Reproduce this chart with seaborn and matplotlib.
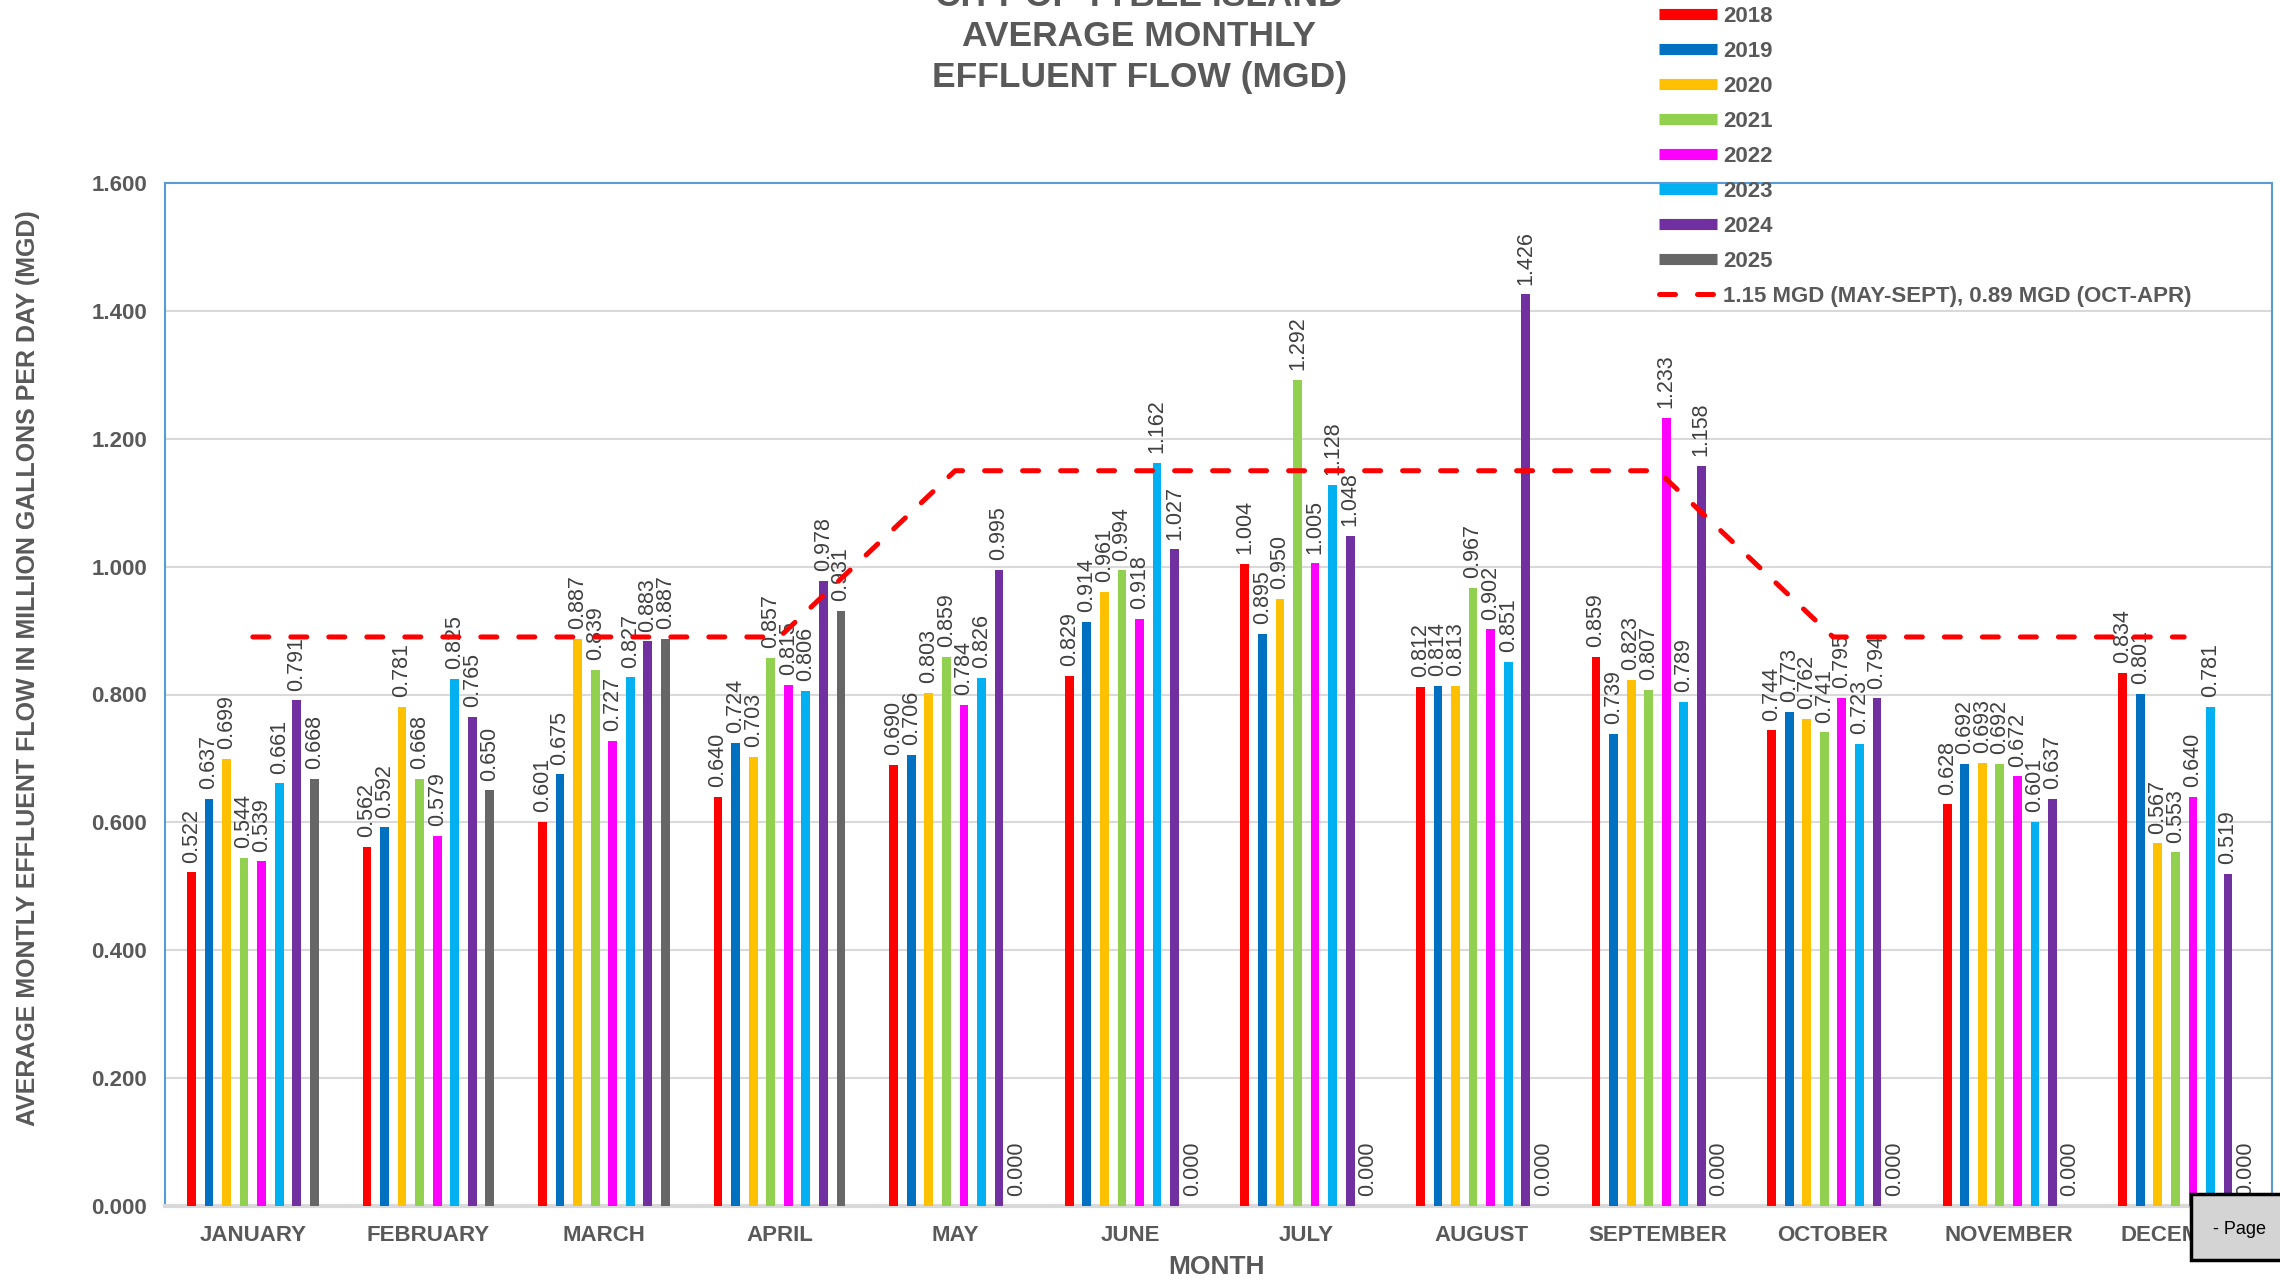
import pandas as pd
import numpy as np
import matplotlib.pyplot as plt
import seaborn as sns
from matplotlib.lines import Line2D
from matplotlib.patches import Rectangle
from matplotlib.ticker import FormatStrFormatter

# Chart data
months = ['JANUARY', 'FEBRUARY', 'MARCH', 'APRIL', 'MAY', 'JUNE',
          'JULY', 'AUGUST', 'SEPTEMBER', 'OCTOBER', 'NOVEMBER', 'DECEMBER']
years = ['2018', '2019', '2020', '2021', '2022', '2023', '2024', '2025']

flow_2018 = [0.522, 0.562, 0.601, 0.640, 0.690, 0.829, 1.004, 0.812, 0.859, 0.744, 0.628, 0.834]
flow_2019 = [0.637, 0.592, 0.675, 0.724, 0.706, 0.914, 0.895, 0.814, 0.739, 0.773, 0.692, 0.801]
flow_2020 = [0.699, 0.781, 0.887, 0.703, 0.803, 0.961, 0.950, 0.813, 0.823, 0.762, 0.693, 0.567]
flow_2021 = [0.544, 0.668, 0.839, 0.857, 0.859, 0.994, 1.292, 0.967, 0.807, 0.741, 0.692, 0.553]
flow_2022 = [0.539, 0.579, 0.727, 0.815, 0.784, 0.918, 1.005, 0.902, 1.233, 0.795, 0.672, 0.640]
flow_2023 = [0.661, 0.825, 0.827, 0.806, 0.826, 1.162, 1.128, 0.851, 0.789, 0.723, 0.601, 0.781]
flow_2024 = [0.791, 0.765, 0.883, 0.978, 0.995, 1.027, 1.048, 1.426, 1.158, 0.794, 0.637, 0.519]
flow_2025 = [0.668, 0.650, 0.887, 0.931, 0.000, 0.000, 0.000, 0.000, 0.000, 0.000, 0.000, 0.000]

# permit limit: 1.15 MGD May-Sept, 0.89 MGD Oct-Apr
limit_mgd = [0.89, 0.89, 0.89, 0.89, 1.15, 1.15, 1.15, 1.15, 1.15, 0.89, 0.89, 0.89]
limit_label = '1.15 MGD (MAY-SEPT), 0.89 MGD (OCT-APR)'

year_colors = ['#FF0000', '#0070C0', '#FFC000', '#92D050', '#FF00FF', '#00B0F0', '#7030A0', '#666666']
limit_color = '#FF0000'
text_gray = '#595959'

series = dict(zip(years, [flow_2018, flow_2019, flow_2020, flow_2021,
                          flow_2022, flow_2023, flow_2024, flow_2025]))
df = pd.DataFrame([(m, y, v) for y, vals in series.items() for m, v in zip(months, vals)],
                  columns=['Month', 'Year', 'Flow'])

sns.set_style('white')
plt.rcParams['font.family'] = ['Liberation Sans', 'DejaVu Sans']

W, H = 2280, 1283
fig = plt.figure(figsize=(W / 100, H / 100), dpi=100)
ax_l, ax_r, ax_t, ax_b = 165, 2272, 183, 1206
ax = fig.add_axes([ax_l / W, 1 - ax_b / H, (ax_r - ax_l) / W, (ax_b - ax_t) / H])

sns.barplot(data=df, x='Month', y='Flow', hue='Year', order=months, hue_order=years,
            palette=year_colors, width=0.8, gap=0.5, saturation=1, linewidth=0,
            legend=False, ax=ax, zorder=3)

for cont in ax.containers:
    ax.bar_label(cont, fmt='%.3f', rotation=90, padding=7, fontsize=15.5, color='#404040', zorder=4)

ax.plot(np.arange(len(months)), limit_mgd, color=limit_color, lw=3.6,
        dashes=(3.2, 4.4), dash_capstyle='round', zorder=5)

# axes styling
ax.set_xlim(-0.5, 11.5)
ax.set_ylim(0, 1.6)
ax.set_yticks(np.arange(0, 1.61, 0.2))
ax.yaxis.set_major_formatter(FormatStrFormatter('%.3f'))
ax.set_axisbelow(True)
ax.grid(axis='y', color='#d9d9d9', lw=1.5)
ax.grid(axis='x', visible=False)
for side in ['left', 'top', 'right']:
    ax.spines[side].set_color('#5b9bd5')
    ax.spines[side].set_linewidth(1.5)
ax.spines['bottom'].set_color('#d9d9d9')
ax.spines['bottom'].set_linewidth(3)
ax.tick_params(axis='both', length=0, labelsize=16, labelcolor=text_gray)
ax.tick_params(axis='y', pad=13)
ax.tick_params(axis='x', pad=14)
for lbl in ax.get_xticklabels() + ax.get_yticklabels():
    lbl.set_fontweight('bold')
ax.set_xlabel('')
ax.set_ylabel('')

# titles and axis labels
title_lines = ['CITY OF TYBEE ISLAND', 'AVERAGE MONTHLY', 'EFFLUENT FLOW (MGD)']
for i, line in enumerate(title_lines):
    fig.text(0.4996, 1 - (5.5 + 41 * i) / H, line, ha='center', va='baseline',
             fontsize=25.5, fontweight='bold', color=text_gray)

fig.text(28 / W, 1 - 668 / H, 'AVERAGE MONTLY EFFLUENT FLOW IN MILLION GALLONS PER DAY (MGD)',
         rotation=90, ha='center', va='center', fontsize=18, fontweight='bold', color=text_gray)
fig.text(1216 / W, 1 - 1267 / H, 'MONTH', ha='center', va='center',
         fontsize=19, fontweight='bold', color=text_gray)

# legend
handles = [Line2D([], [], color=c, lw=8, solid_capstyle='butt') for c in year_colors]
handles.append(Line2D([], [], color=limit_color, lw=3.6, dashes=(3.2, 4.4), dash_capstyle='round'))
fig.legend(handles, years + [limit_label], loc='upper left',
           bbox_to_anchor=(1659 / W, 1 - 6 / H), frameon=False,
           prop={'weight': 'bold', 'size': 16}, labelcolor=text_gray,
           handlelength=2.6, handletextpad=0.3, labelspacing=0.63,
           borderpad=0, borderaxespad=0)

# viewer "- Page" button over the corner
fig.add_artist(Rectangle((2191 / W, 1 - 1260 / H), (2300 - 2191) / W, (1260 - 1194) / H,
                         transform=fig.transFigure, facecolor='#d4d4d4',
                         edgecolor='black', lw=2.5, zorder=10))
fig.text(2213 / W, 1 - 1229 / H, '- Page', ha='left', va='center', fontsize=13,
         color='black', zorder=11)

fig.savefig('out.png', dpi=100)
